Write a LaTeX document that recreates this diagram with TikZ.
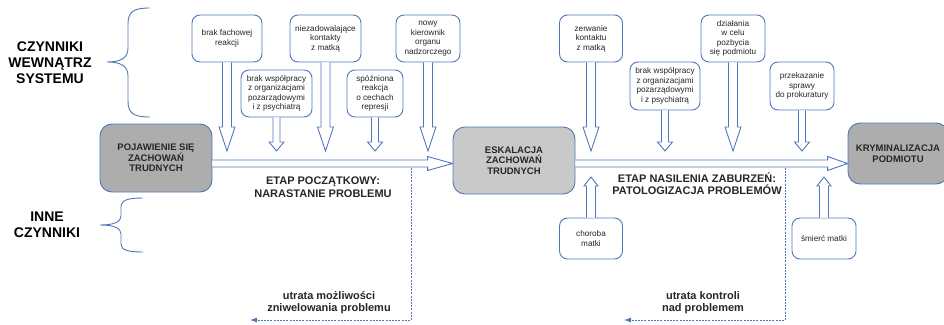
\documentclass[tikz,border=0pt]{standalone}
\usepackage{fontspec}
\setmainfont{Liberation Sans}
\usepackage{tikz}
\usetikzlibrary{calc,arrows.meta}

\definecolor{ramka}{HTML}{4F76BA}
\definecolor{szary}{HTML}{ADADAD}
\definecolor{jasnoszary}{HTML}{C9C9C9}
\definecolor{tekst}{HTML}{262626}

\tikzset{
  czynnik/.style={draw=ramka, line width=0.9pt, rounded corners=8pt, fill=white, align=center,
    inner sep=1pt, text=tekst, font=\fontsize{8.2}{9.5}\selectfont},
  faza/.style={draw=ramka, line width=0.9pt, rounded corners=12pt, align=center, inner sep=1pt,
    text=tekst, font=\bfseries\fontsize{9.5}{10.5}\selectfont},
  opis/.style={align=center, text=tekst, font=\bfseries\fontsize{11}{12.5}\selectfont},
  naglowek/.style={align=center, text=black, font=\bfseries\fontsize{14}{16}\selectfont},
  blokstrzalka/.style={draw=ramka, line width=0.9pt, fill=white, line join=miter},
  klamra/.style={draw=ramka, line width=0.9pt},
  utrata/.style={draw=ramka, line width=0.8pt, dash pattern=on 2pt off 1.2pt,
    -{Latex[length=7pt,width=5pt]}}
}

% hollow block arrow: #1 start, #2 tip, #3 half shaft, #4 half head, #5 head length
\newcommand{\blokowa}[5]{%
  \path ($(#2)!#5!(#1)$) coordinate (grot);
  \draw[blokstrzalka] ($(#1)!#3!90:(#2)$) -- ($(grot)!#3!90:(#2)$) -- ($(grot)!#4!90:(#2)$)
    -- (#2) -- ($(grot)!#4!-90:(#2)$) -- ($(grot)!#3!-90:(#2)$) -- ($(#1)!#3!-90:(#2)$);}

\begin{document}
\begin{tikzpicture}[x=1pt,y=-1pt]
  \useasboundingbox (0,0) rectangle (944,324);

  % etapy
  \node[faza, fill=szary, minimum width=112pt, minimum height=68pt] (poj) at (156,158)
    {POJAWIENIE SIĘ\\ZACHOWAŃ\\TRUDNYCH};
  \node[faza, fill=jasnoszary, minimum width=122pt, minimum height=67pt] (esk) at (514,160.5)
    {ESKALACJA\\ZACHOWAŃ\\TRUDNYCH};
  \node[faza, fill=szary, minimum width=100pt, minimum height=61pt] (kry) at (898,153.5)
    {KRYMINALIZACJA\\PODMIOTU};

  % czynniki wewnatrz systemu
  \node[czynnik, minimum width=70pt, minimum height=47pt] (b1) at (227,38.5) {brak fachowej\\reakcji};
  \node[czynnik, minimum width=71pt, minimum height=47pt] (b2) at (276.5,93.5)
    {brak współpracy\\z organizacjami\\pozarządowymi\\i z psychiatrą};
  \node[czynnik, minimum width=71pt, minimum height=47pt] (b3) at (325.5,38.5)
    {niezadowalające\\kontakty\\z matką};
  \node[czynnik, minimum width=56pt, minimum height=47pt] (b4) at (375,93.5)
    {spóźniona\\reakcja\\o cechach\\represji};
  \node[czynnik, minimum width=64pt, minimum height=47pt] (b5) at (428,38.5)
    {nowy\\kierownik\\organu\\nadzorczego};

  \node[czynnik, minimum width=63pt, minimum height=47pt] (c1) at (591,38.5) {zerwanie\\kontaktu\\z matką};
  \node[czynnik, minimum width=70pt, minimum height=48pt] (c2) at (665,86)
    {brak współpracy\\z organizacjami\\pozarządowymi\\i z psychiatrą};
  \node[czynnik, minimum width=64pt, minimum height=47pt] (c3) at (733,38.5)
    {działania\\w celu\\pozbycia\\się podmiotu};
  \node[czynnik, minimum width=64pt, minimum height=48pt] (c4) at (802,86)
    {przekazanie\\sprawy\\do prokuratury};

  % inne czynniki
  \node[czynnik, minimum width=63pt, minimum height=41pt] (d1) at (591,238.5) {choroba\\matki};
  \node[czynnik, minimum width=64pt, minimum height=41pt] (d2) at (824,238.5) {śmierć matki};

  % poziomy
  \coordinate (os) at (0,163.5);
  \coordinate (gora) at (0,151);
  \coordinate (dol) at (0,177);

  \blokowa{poj.east |- os}{esk.west |- os}{3.5pt}{7pt}{25pt}
  \blokowa{esk.east |- os}{kry.west |- os}{3.5pt}{7pt}{20pt}

  \blokowa{b1.south}{b1.south |- gora}{4.5pt}{8pt}{24pt}
  \blokowa{b2.south}{b2.south |- gora}{3.5pt}{7.5pt}{9pt}
  \blokowa{b3.south}{b3.south |- gora}{4.5pt}{8pt}{24pt}
  \blokowa{b4.south}{b4.south |- gora}{3.5pt}{7.5pt}{9pt}
  \blokowa{b5.south}{b5.south |- gora}{4.5pt}{8pt}{24pt}
  \blokowa{c1.south}{c1.south |- gora}{4.5pt}{8pt}{24pt}
  \blokowa{c2.south}{c2.south |- gora}{3.5pt}{7.5pt}{9pt}
  \blokowa{c3.south}{c3.south |- gora}{4.5pt}{8pt}{24pt}
  \blokowa{c4.south}{c4.south |- gora}{3.5pt}{7.5pt}{9pt}

  \blokowa{d1.north}{d1.north |- dol}{4.5pt}{7pt}{9pt}
  \blokowa{d2.north}{d2.north |- dol}{4.5pt}{7pt}{9pt}

  % klamry
  \draw[klamra] (150,8) .. controls (133,8) and (128,12) .. (128,24) -- (128,48)
    .. controls (128,58) and (121,62) .. (107,62) .. controls (121,62) and (128,66) .. (128,76)
    -- (128,101) .. controls (128,113) and (133,117) .. (150,117);
  \draw[klamra] (143,198) .. controls (128,198) and (121,200) .. (121,207) -- (121,216)
    .. controls (121,222) and (114,225) .. (100,225) .. controls (114,225) and (121,228) .. (121,234)
    -- (121,244) .. controls (121,250) and (128,252) .. (143,252);

  \node[naglowek] (wew) at (50,63) {CZYNNIKI\\WEWNĄTRZ\\SYSTEMU};
  \node[naglowek] (inne) at (47,225) {INNE\\CZYNNIKI};

  \node[opis] (etap1) at (323,187) {ETAP POCZĄTKOWY:\\NARASTANIE PROBLEMU};
  \node[opis] (etap2) at (697,183.5) {ETAP NASILENIA ZABURZEŃ:\\PATOLOGIZACJA PROBLEMÓW};

  % utrata
  \coordinate (u1) at (411,167.5);
  \coordinate (u1k) at (250,320);
  \coordinate (u2) at (785,167.5);
  \coordinate (u2k) at (624,320);
  \draw[utrata] (u1) |- (u1k);
  \draw[utrata] (u2) |- (u2k);
  \node[opis] (ut1) at (329,302.5) {utrata możliwości\\zniwelowania problemu};
  \node[opis] (ut2) at (703,302.5) {utrata kontroli\\nad problemem};

  % \draw[help lines, step=50] (0,0) grid (944,324);
\end{tikzpicture}
\end{document}
